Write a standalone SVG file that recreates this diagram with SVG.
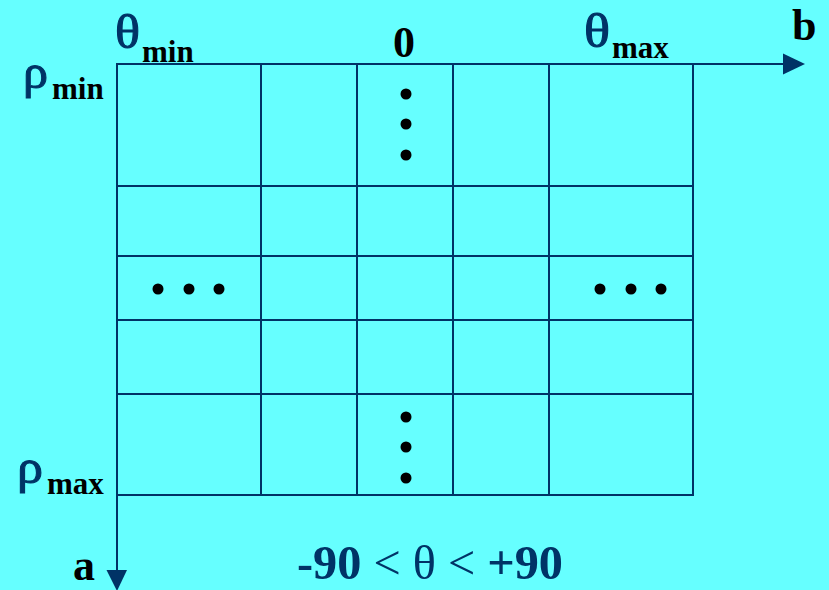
<svg xmlns="http://www.w3.org/2000/svg" width="829" height="590" viewBox="0 0 829 590">
<defs>
<style>
.grid{stroke:#003366;stroke-width:2;fill:none}
.axis{stroke:#003366;stroke-width:2;fill:none}
.head{fill:#003366}
.dot{fill:#000}
.sym{font-family:"Liberation Serif",serif;fill:#003366;stroke:#003366;stroke-width:1;font-size:48px}
.sub{font-family:"Liberation Serif",serif;font-weight:bold;fill:#000;font-size:31px}
.lbl{font-family:"Liberation Serif",serif;font-weight:bold;fill:#000;font-size:44px}
.rng{font-family:"Liberation Serif",serif;font-weight:bold;fill:#003366;font-size:48px}
</style>
</defs>
<rect width="829" height="590" fill="#66FFFF"/>
<g id="connectors">
<line class="axis" x1="117" y1="64" x2="785" y2="64"/>
<polygon class="head" points="783,53.5 805,64 783,74.5"/>
<line class="axis" x1="117" y1="64" x2="117" y2="572"/>
<polygon class="head" points="106.5,570 127,570 117,591"/>
</g>
<g id="grid">
<rect class="grid" x="117" y="64" width="576" height="431"/>
<line class="grid" x1="261" y1="64" x2="261" y2="495"/>
<line class="grid" x1="357" y1="64" x2="357" y2="495"/>
<line class="grid" x1="453" y1="64" x2="453" y2="495"/>
<line class="grid" x1="549" y1="64" x2="549" y2="495"/>
<line class="grid" x1="117" y1="186" x2="693" y2="186"/>
<line class="grid" x1="117" y1="256" x2="693" y2="256"/>
<line class="grid" x1="117" y1="320" x2="693" y2="320"/>
<line class="grid" x1="117" y1="394" x2="693" y2="394"/>
</g>
<g id="dots">
<circle class="dot" cx="406" cy="94" r="5.5"/>
<circle class="dot" cx="406" cy="124" r="5.5"/>
<circle class="dot" cx="406" cy="155" r="5.5"/>
<circle class="dot" cx="406" cy="417" r="5.5"/>
<circle class="dot" cx="406" cy="447" r="5.5"/>
<circle class="dot" cx="406" cy="478" r="5.5"/>
<circle class="dot" cx="158" cy="289" r="5.5"/>
<circle class="dot" cx="189" cy="289" r="5.5"/>
<circle class="dot" cx="219" cy="289" r="5.5"/>
<circle class="dot" cx="600" cy="289" r="5.5"/>
<circle class="dot" cx="631" cy="289" r="5.5"/>
<circle class="dot" cx="661" cy="289" r="5.5"/>
</g>
<g id="labels">
<text class="sym" x="115" y="48" textLength="25" lengthAdjust="spacingAndGlyphs">θ</text>
<text class="sub" x="142" y="62">min</text>
<text class="lbl" x="393" y="57">0</text>
<text class="sym" x="584" y="47" textLength="26" lengthAdjust="spacingAndGlyphs">θ</text>
<text class="sub" x="612" y="58">max</text>
<text class="lbl" x="792" y="40">b</text>
<text class="sym" x="23" y="88" textLength="25" lengthAdjust="spacingAndGlyphs">ρ</text>
<text class="sub" x="52" y="99">min</text>
<text class="sym" x="17" y="483" textLength="26" lengthAdjust="spacingAndGlyphs">ρ</text>
<text class="sub" x="47" y="494">max</text>
<text class="lbl" x="73" y="580">a</text>
<text class="rng" x="297" y="579" textLength="266" lengthAdjust="spacingAndGlyphs">-90 <tspan font-weight="normal">&lt; θ &lt;</tspan> +90</text>
</g>
</svg>
